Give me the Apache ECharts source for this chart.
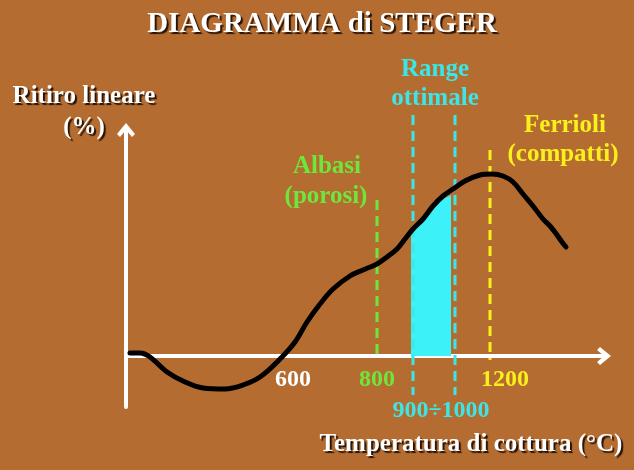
<!DOCTYPE html>
<html>
<head>
<meta charset="utf-8">
<script src="https://cdn.jsdelivr.net/npm/echarts@6/dist/echarts.min.js"></script>
<style>
html,body{margin:0;padding:0;background:#B46C30;}
#chart{width:634px;height:470px;}
</style>
</head>
<body>
<div id="chart"></div>
<script>
// Position along the (qualitative) temperature axis and shrinkage value
var curveX = [4,14,24,41,59,77,99,117,134,154,169,181,194,207,224,237,251,261,271,279,287,297,307,317,327,339,354,366,377,387,397,407,417,424,431,436,440];
var curveY = [3,3,-1,-16,-26,-32,-33,-29,-21,-3,14,34,52,67,80,86,92,99,107,117,127,137,150,160,167,175,181,182,180,174,162,150,137,130,121,114,109];

// Optimal range fill (900÷1000)
var fillX = [285,291,297,302,307,312,317,321,325];
var fillY = [124,130,135,142,148,153,157,159,161];

// Vertical dashed markers: position, top, bottom
var markerNames = ['Albasi 800','Range 900','Range 1000','Ferrioli 1200'];
var markerX = [251,287,329,364];
var markerTop = [156,241,241,206];
var markerBottom = [-4,-39,-39,-4];

// Tick labels
var tickLabels = ['600','800','1200','900\u00F71000'];
var tickX = [167,251,379,315];
var tickY = [-24,-24,-24,-55];

var WHITE = '#FFFFFF', GREEN = '#6EE63C', CYAN = '#3CE6E6', YELLOW = '#FAF01E';
var markerColors = [GREEN, CYAN, CYAN, YELLOW];
var tickColors = [WHITE, GREEN, YELLOW, CYAN];

var FONT = 'Liberation Serif';
var arrowPath = 'path://M9,0 L18,11 L15,14 L9,7 L3,14 L0,11 Z';

var chart = echarts.init(document.getElementById('chart'));

function pairs(xs, ys){ return xs.map(function(x,i){ return [x, ys[i]]; }); }

var series = [];
series.push({
  type:'line', name:'fill', data: pairs(fillX, fillY), symbol:'none', smooth:true,
  lineStyle:{width:0}, areaStyle:{color:'#3CF2F8', opacity:1}, z:2, silent:true
});
markerX.forEach(function(x,i){
  series.push({
    type:'line', name: markerNames[i], data:[[x, markerTop[i]],[x, markerBottom[i]]],
    symbol:'none', clip:false, silent:true, z:3,
    lineStyle:{color: markerColors[i], width:3, type:[10,6]}
  });
});
series.push({
  type:'line', name:'curve', data: pairs(curveX, curveY), symbol:'none', smooth:0.35,
  lineStyle:{color:'#000000', width:5, cap:'round', join:'round'}, z:5, silent:true
});
series.push({
  type:'scatter', name:'ticks', symbolSize:0, clip:false, silent:true, z:6,
  itemStyle:{opacity:1, color:'rgba(0,0,0,0)'},
  data: tickLabels.map(function(t,i){
    return {value:[tickX[i], tickY[i]], label:{formatter:t, color:tickColors[i]}};
  }),
  label:{show:true, position:'inside', fontFamily:FONT, fontWeight:'bold', fontSize:24,
    textBorderWidth:0, textBorderColor:'transparent', textShadowBlur:0, opacity:1}
});

function txt(text, x, y, color, size, shadow){
  var s = {text:text, x:x, y:y, fill:color, font:'bold '+size+'px "'+FONT+'"', textAlign:'center', textVerticalAlign:'middle'};
  if (shadow){ s.textShadowColor='rgba(30,15,5,0.95)'; s.textShadowOffsetX=2; s.textShadowOffsetY=2; s.textShadowBlur=1; }
  return {type:'text', style:s, z:10};
}

chart.setOption({
  backgroundColor:'#B46C30',
  animation:false,
  grid:{left:126, right:30, top:130, bottom:63},
  xAxis:{type:'value', min:0, max:478,
    axisLine:{show:true, onZero:true, lineStyle:{color:'#FFFFFF', width:4}, symbol:['none', arrowPath], symbolSize:[18,16]},
    axisTick:{show:false}, axisLabel:{show:false}, splitLine:{show:false}},
  yAxis:{type:'value', min:-51, max:226,
    axisLine:{show:true, onZero:false, lineStyle:{color:'#FFFFFF', width:4}, symbol:['none', arrowPath], symbolSize:[18,16]},
    axisTick:{show:false}, axisLabel:{show:false}, splitLine:{show:false}},
  series: series,
  graphic:[
    txt('DIAGRAMMA di STEGER', 322, 25, WHITE, 29, true),
    txt('Ritiro lineare', 84, 97, WHITE, 25, true),
    txt('(%)', 84, 128, WHITE, 25, true),
    txt('Range', 435, 70, CYAN, 25, false),
    txt('ottimale', 435, 99, CYAN, 25, false),
    txt('Albasi', 327, 167, GREEN, 25, false),
    txt('(porosi)', 326, 197, GREEN, 25, false),
    txt('Ferrioli', 565, 126, YELLOW, 25, false),
    txt('(compatti)', 563, 155, YELLOW, 25, false),
    txt('Temperatura di cottura (\u00B0C)', 471, 445, WHITE, 25, true)
  ]
});
</script>
</body>
</html>
